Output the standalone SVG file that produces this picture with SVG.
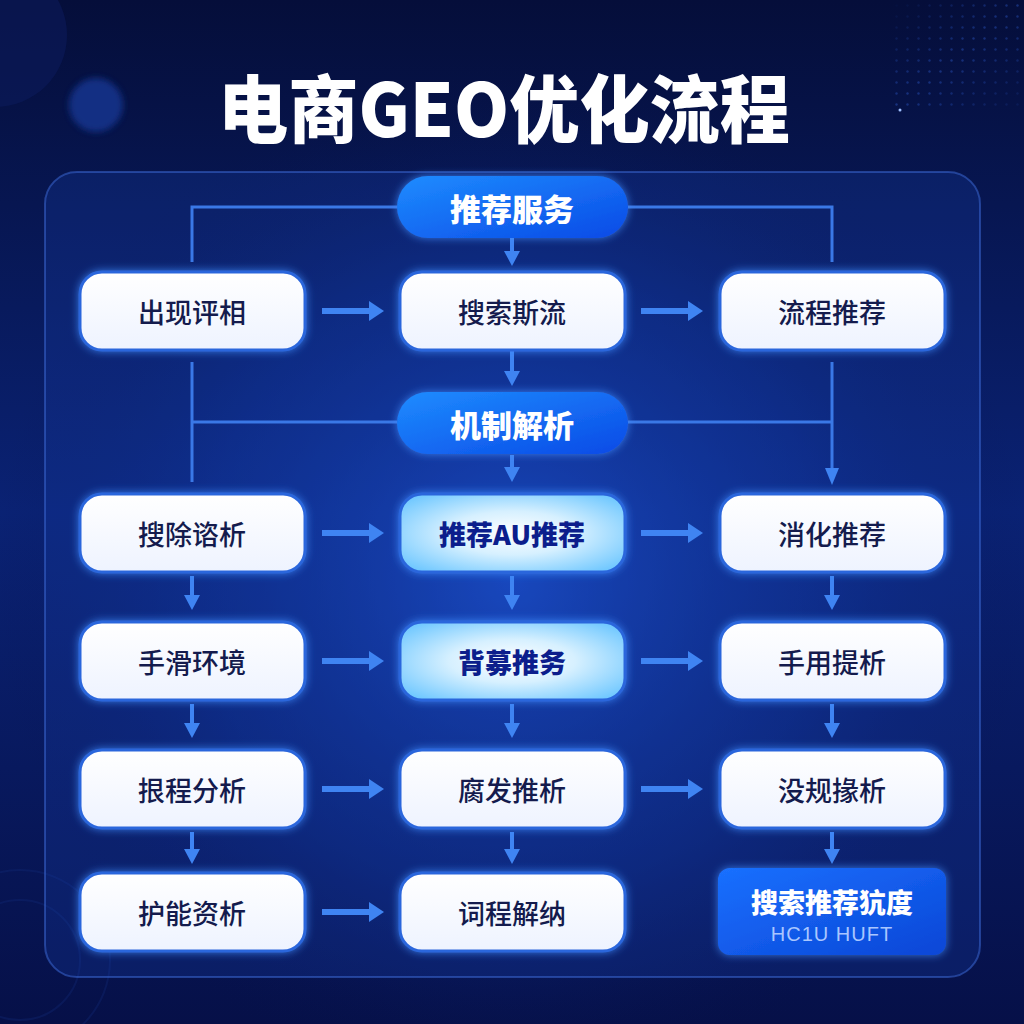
<svg xmlns="http://www.w3.org/2000/svg" width="1024" height="1024" viewBox="0 0 1024 1024">
<defs>
<linearGradient id="bg" x1="0" y1="0" x2="0" y2="1">
<stop offset="0" stop-color="#050e3a"/>
<stop offset="0.5" stop-color="#0a2274"/>
<stop offset="1" stop-color="#061048"/>
</linearGradient>
<radialGradient id="glow" cx="512" cy="580" r="520" gradientUnits="userSpaceOnUse">
<stop offset="0" stop-color="#1d55d8" stop-opacity="0.75"/>
<stop offset="0.6" stop-color="#0f3399" stop-opacity="0.35"/>
<stop offset="1" stop-color="#061048" stop-opacity="0"/>
</radialGradient>
<linearGradient id="pill" x1="0" y1="0" x2="1" y2="1">
<stop offset="0" stop-color="#1e8cff"/>
<stop offset="1" stop-color="#0a4ae6"/>
</linearGradient>
<linearGradient id="endbox" x1="0" y1="0" x2="1" y2="1">
<stop offset="0" stop-color="#1a70ff"/>
<stop offset="1" stop-color="#0a46d6"/>
</linearGradient>
<linearGradient id="node" x1="0" y1="0" x2="0" y2="1">
<stop offset="0" stop-color="#ffffff"/>
<stop offset="1" stop-color="#eef3ff"/>
</linearGradient>
<radialGradient id="hinode" cx="0.5" cy="0.5" r="0.7">
<stop offset="0" stop-color="#ffffff"/>
<stop offset="0.4" stop-color="#d6f0ff"/>
<stop offset="1" stop-color="#5cc0ff"/>
</radialGradient>
<filter id="sh" x="-20%" y="-30%" width="140%" height="160%">
<feDropShadow dx="0" dy="0" stdDeviation="4" flood-color="#3d8cff" flood-opacity="0.8"/>
</filter>
<filter id="blur" x="-50%" y="-50%" width="200%" height="200%">
<feGaussianBlur stdDeviation="3"/>
</filter>
<pattern id="dots" x="0" y="0" width="11" height="11" patternUnits="userSpaceOnUse">
<circle cx="5.5" cy="5.5" r="1.2" fill="#2f5fd8" opacity="0.4"/>
</pattern>
<linearGradient id="dotfade" x1="0" y1="0" x2="1" y2="1">
<stop offset="0" stop-color="#fff" stop-opacity="0"/>
<stop offset="0.5" stop-color="#fff" stop-opacity="1"/>
<stop offset="1" stop-color="#fff" stop-opacity="0.2"/>
</linearGradient>
<mask id="dm"><rect x="890" y="0" width="134" height="110" fill="url(#dotfade)"/></mask>
<marker id="ah" viewBox="0 0 15 20" refX="2" refY="10" markerWidth="15" markerHeight="20" markerUnits="userSpaceOnUse" orient="auto">
<path d="M0,0 L15,10 L0,20 Z" fill="#3f84f2"/>
</marker>
<marker id="av" viewBox="0 0 15 16" refX="2" refY="8" markerWidth="15" markerHeight="16" markerUnits="userSpaceOnUse" orient="auto">
<path d="M0,0 L15,8 L0,16 Z" fill="#3f84f2"/>
</marker>
<style>
.n{fill:url(#node);stroke:#2c66dc;stroke-width:3;filter:url(#sh)}
.h{fill:url(#hinode);stroke:#2c66dc;stroke-width:3;filter:url(#sh)}
.t{font-family:"Noto Sans CJK SC","Noto Sans",sans-serif;font-size:27px;font-weight:500;fill:#141b4d;text-anchor:middle;dominant-baseline:central}
.tb{font-family:"Noto Sans CJK SC","Noto Sans",sans-serif;font-size:27px;font-weight:900;fill:#0c1e8c;text-anchor:middle;dominant-baseline:central}
.pt{font-family:"Noto Sans CJK SC","Noto Sans",sans-serif;font-size:31px;font-weight:900;fill:#ffffff;text-anchor:middle;dominant-baseline:central}
.ln{fill:none;stroke:#3a78e6;stroke-width:3}
.ha{stroke:#3f84f2;stroke-width:6;marker-end:url(#ah)}
.va{stroke:#3f84f2;stroke-width:4;marker-end:url(#av)}
</style>
</defs>
<rect width="1024" height="1024" fill="url(#bg)"/>
<rect width="1024" height="1024" fill="url(#glow)"/>
<circle cx="-5" cy="35" r="72" fill="#0c1c5c" opacity="0.55"/>
<circle cx="96" cy="105" r="27" fill="#12358e" opacity="0.85" filter="url(#blur)"/>
<rect x="890" y="0" width="134" height="110" fill="url(#dots)" mask="url(#dm)"/>
<circle cx="900" cy="110" r="1.5" fill="#9fc0ff"/>
<circle cx="20" cy="960" r="90" fill="none" stroke="#14307e" stroke-width="2" opacity="0.3"/>
<circle cx="20" cy="960" r="60" fill="none" stroke="#14307e" stroke-width="2" opacity="0.3"/>

<text x="504" y="104" font-family="'Noto Sans CJK SC','Noto Sans',sans-serif" font-size="74" font-weight="900" fill="#ffffff" text-anchor="middle" dominant-baseline="central" textLength="572" lengthAdjust="spacingAndGlyphs">电商GEO优化流程</text>

<rect x="45" y="172" width="935" height="805" rx="32" fill="#1a4ac0" fill-opacity="0.22" stroke="#3a66d0" stroke-opacity="0.55" stroke-width="2"/>

<g id="connectors">
<polyline class="ln" points="192,262 192,207 397,207"/>
<polyline class="ln" points="628,207 832,207 832,262"/>
<line class="va" x1="512" y1="238" x2="512" y2="253"/>
<line class="ha" x1="322" y1="311" x2="371" y2="311"/>
<line class="ha" x1="641" y1="311" x2="690" y2="311"/>
<line class="va" x1="512" y1="351" x2="512" y2="373"/>
<line class="ln" x1="192" y1="362" x2="192" y2="482"/>
<line class="ln" x1="192" y1="422" x2="397" y2="422"/>
<line class="ln" x1="628" y1="422" x2="832" y2="422"/>
<line class="ln" x1="832" y1="362" x2="832" y2="470"/>
<path d="M825,468 L832,485 L839,468 Z" fill="#3f84f2"/>
<line class="va" x1="512" y1="455" x2="512" y2="469"/>
<line class="ha" x1="322" y1="533" x2="371" y2="533"/>
<line class="ha" x1="641" y1="533" x2="690" y2="533"/>
<line class="va" x1="192" y1="576" x2="192" y2="597"/>
<line class="va" x1="512" y1="576" x2="512" y2="597"/>
<line class="va" x1="832" y1="576" x2="832" y2="597"/>
<line class="ha" x1="322" y1="661" x2="371" y2="661"/>
<line class="ha" x1="641" y1="661" x2="690" y2="661"/>
<line class="va" x1="192" y1="704" x2="192" y2="725"/>
<line class="va" x1="512" y1="704" x2="512" y2="725"/>
<line class="va" x1="832" y1="704" x2="832" y2="725"/>
<line class="ha" x1="322" y1="789" x2="371" y2="789"/>
<line class="ha" x1="641" y1="789" x2="690" y2="789"/>
<line class="va" x1="192" y1="832" x2="192" y2="851"/>
<line class="va" x1="512" y1="832" x2="512" y2="851"/>
<line class="va" x1="832" y1="832" x2="832" y2="851"/>
<line class="ha" x1="322" y1="912" x2="371" y2="912"/>
</g>

<g id="n-top"><rect x="397" y="176" width="231" height="62" rx="31" fill="url(#pill)" filter="url(#sh)"/><text class="pt" x="512" y="207">推荐服务</text></g>
<g id="n-mid"><rect x="397" y="392" width="231" height="62" rx="31" fill="url(#pill)" filter="url(#sh)"/><text class="pt" x="512" y="423">机制解析</text></g>

<g id="n11"><rect class="n" x="80" y="272" width="225" height="78" rx="22"/><text class="t" x="192" y="311">出现评相</text></g>
<g id="n12"><rect class="n" x="400" y="272" width="225" height="78" rx="22"/><text class="t" x="512" y="311">搜索斯流</text></g>
<g id="n13"><rect class="n" x="720" y="272" width="225" height="78" rx="22"/><text class="t" x="832" y="311">流程推荐</text></g>

<g id="n21"><rect class="n" x="80" y="494" width="225" height="78" rx="22"/><text class="t" x="192" y="533">搜除谘析</text></g>
<g id="n22"><rect class="h" x="400" y="494" width="225" height="78" rx="22"/><text class="tb" x="512" y="533">推荐AU推荐</text></g>
<g id="n23"><rect class="n" x="720" y="494" width="225" height="78" rx="22"/><text class="t" x="832" y="533">消化推荐</text></g>

<g id="n31"><rect class="n" x="80" y="622" width="225" height="78" rx="22"/><text class="t" x="192" y="661">手滑环境</text></g>
<g id="n32"><rect class="h" x="400" y="622" width="225" height="78" rx="22"/><text class="tb" x="512" y="661">背募推务</text></g>
<g id="n33"><rect class="n" x="720" y="622" width="225" height="78" rx="22"/><text class="t" x="832" y="661">手用提析</text></g>

<g id="n41"><rect class="n" x="80" y="750" width="225" height="78" rx="22"/><text class="t" x="192" y="789">拫程分析</text></g>
<g id="n42"><rect class="n" x="400" y="750" width="225" height="78" rx="22"/><text class="t" x="512" y="789">腐发推析</text></g>
<g id="n43"><rect class="n" x="720" y="750" width="225" height="78" rx="22"/><text class="t" x="832" y="789">没规掾析</text></g>

<g id="n51"><rect class="n" x="80" y="873" width="225" height="78" rx="22"/><text class="t" x="192" y="912">护能资析</text></g>
<g id="n52"><rect class="n" x="400" y="873" width="225" height="78" rx="22"/><text class="t" x="512" y="912">词程解纳</text></g>
<g id="n53"><rect x="718" y="868" width="228" height="87" rx="12" fill="url(#endbox)" filter="url(#sh)"/>
<text x="832" y="901" font-family="'Noto Sans CJK SC','Noto Sans',sans-serif" font-size="27" font-weight="900" fill="#ffffff" text-anchor="middle" dominant-baseline="central">搜索推荐犺度</text>
<text x="832" y="934" font-family="'Liberation Sans',Arial,sans-serif" font-size="20" fill="#a9c6ff" text-anchor="middle" dominant-baseline="central" letter-spacing="1">HC1U HUFT</text></g>
</svg>
